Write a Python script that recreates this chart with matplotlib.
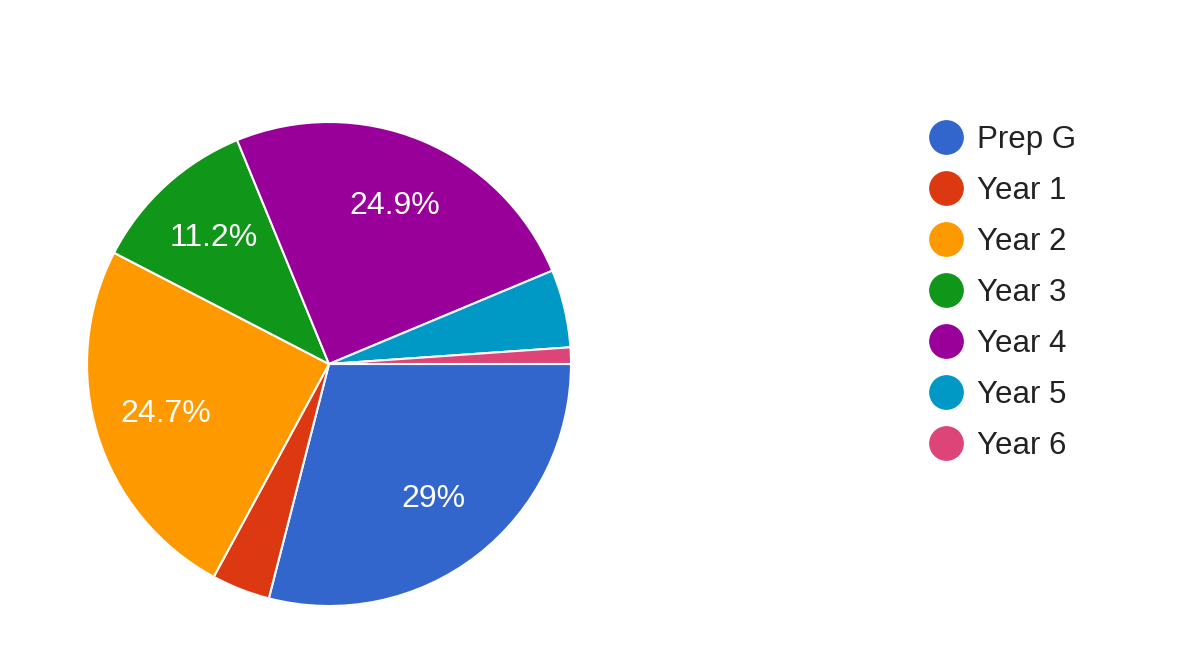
import matplotlib.pyplot as plt
from matplotlib.lines import Line2D

# slices, clockwise from 3 o'clock
labels = ['Prep G', 'Year 1', 'Year 2', 'Year 3', 'Year 4', 'Year 5', 'Year 6']
shares = [29.0, 3.9, 24.7, 11.2, 24.9, 5.2, 1.1]
colors = ['#3366cc', '#dc3912', '#ff9900', '#109618', '#990099', '#0099c6', '#dd4477']

plt.rcParams['font.family'] = ['Liberation Sans', 'DejaVu Sans']

fig = plt.figure(figsize=(12, 6.47), dpi=100)
cx, cy, r = 329, 364, 242
ax = fig.add_axes([(cx - r) / 1200, (647 - cy - r) / 647, 2 * r / 1200, 2 * r / 647])

def fmt(p):
    if p < 10:
        return ''
    return '%g%%' % round(p, 1)

wedges, texts, autotexts = ax.pie(
    shares, colors=colors, startangle=0, counterclock=False,
    autopct=fmt, pctdistance=0.705, radius=1,
    wedgeprops=dict(edgecolor='white', linewidth=1.5),
    textprops=dict(color='white', fontsize=23))
ax.set_xlim(-1, 1)
ax.set_ylim(-1, 1)
ax.set_aspect('equal')
ax.axis('off')

handles = [Line2D([], [], marker='o', linestyle='', markersize=24,
                  markerfacecolor=c, markeredgecolor=c) for c in colors]
fig.legend(handles, labels, loc='upper left', bbox_to_anchor=(893 / 1200, 1 - 97 / 647),
           frameon=False, fontsize=22.5, labelspacing=0.67, handletextpad=0.2,
           handlelength=1.6, labelcolor='#222222')

fig.savefig('out.png', dpi=100, facecolor='white')
